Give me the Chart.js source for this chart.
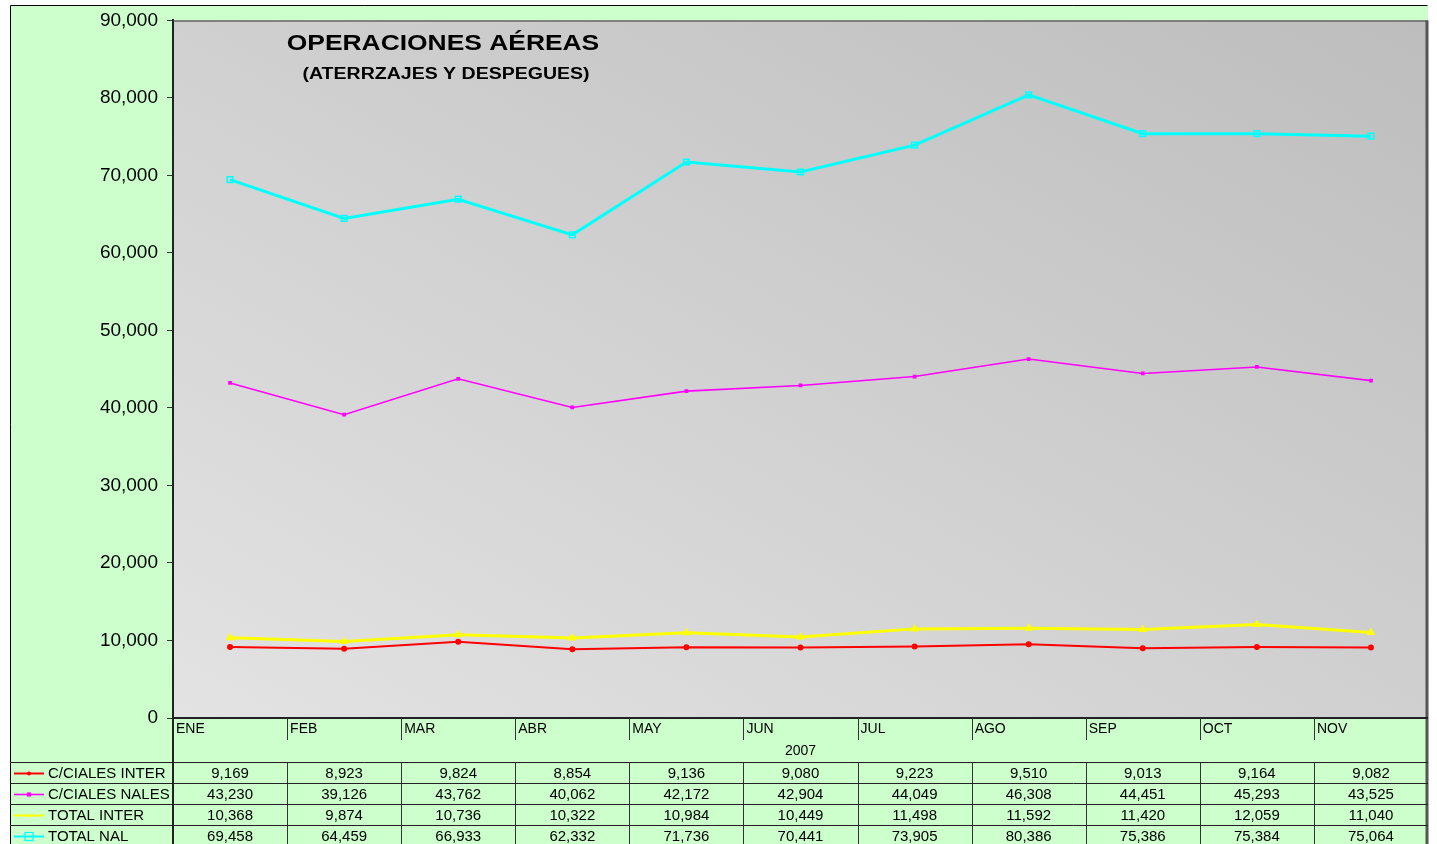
<!DOCTYPE html>
<html>
<head>
<meta charset="utf-8">
<script src="https://cdn.jsdelivr.net/npm/chart.js@4"></script>
<style>
  html, body { margin: 0; padding: 0; background: #ffffff; }
  #wrap { width: 1437px; height: 844px; position: relative; }
</style>
</head>
<body>
<div id="wrap"><canvas id="opsChart"></canvas></div>
<script>
const months = ['ENE', 'FEB', 'MAR', 'ABR', 'MAY', 'JUN', 'JUL', 'AGO', 'SEP', 'OCT', 'NOV'];
const yearLabel = '2007';
const cialesInter = [9169, 8923, 9824, 8854, 9136, 9080, 9223, 9510, 9013, 9164, 9082];
const cialesNales = [43230, 39126, 43762, 40062, 42172, 42904, 44049, 46308, 44451, 45293, 43525];
const totalInter = [10368, 9874, 10736, 10322, 10984, 10449, 11498, 11592, 11420, 12059, 11040];
const totalNal = [69458, 64459, 66933, 62332, 71736, 70441, 73905, 80386, 75386, 75384, 75064];
const seriesNames = ['C/CIALES INTER', 'C/CIALES NALES', 'TOTAL INTER', 'TOTAL NAL'];
const yMin = 0, yMax = 90000, yStep = 10000;

const FONT = '"Liberation Sans", Arial, sans-serif';
const fmt = v => v.toLocaleString('en-US');

// text drawn with a little horizontal stretch, like the old spreadsheet render
function stretchText(ctx, text, x, y, font, sx, align) {
    ctx.save();
    ctx.font = font;
    ctx.textAlign = align || 'center';
    ctx.textBaseline = 'middle';
    ctx.translate(x, y);
    ctx.scale(sx, 1);
    ctx.fillText(text, 0, 0);
    ctx.restore();
}

function drawMarker(ctx, ds, x, y) {
    ctx.save();
    ctx.strokeStyle = ds.pointBorderColor;
    ctx.fillStyle = ds.pointBackgroundColor;
    ctx.lineWidth = 1.2;
    const r = ds.pointRadius;
    if (ds.pointStyle === 'rect') {
        ctx.fillRect(x - r, y - r, r * 2, r * 2);
        ctx.strokeRect(x - r, y - r, r * 2, r * 2);
    } else if (ds.pointStyle === 'triangle') {
        ctx.beginPath();
        ctx.moveTo(x, y - r);
        ctx.lineTo(x + r, y + r * 0.7);
        ctx.lineTo(x - r, y + r * 0.7);
        ctx.closePath();
        ctx.fill();
    } else {
        ctx.beginPath();
        ctx.arc(x, y, r, 0, Math.PI * 2);
        ctx.fill();
    }
    ctx.restore();
}

const backdropPlugin = {
    id: 'backdrop',
    beforeDraw(chart) {
        const {ctx, chartArea: a} = chart;
        ctx.save();
        ctx.fillStyle = '#ffffff';
        ctx.fillRect(0, 0, chart.width, chart.height);
        ctx.fillStyle = '#ccffcc';
        ctx.fillRect(10, 5, 1418, chart.height - 5);
        ctx.strokeStyle = '#000000';
        ctx.lineWidth = 1;
        ctx.beginPath();
        ctx.moveTo(10.5, chart.height);
        ctx.lineTo(10.5, 5.5);
        ctx.lineTo(1427.5, 5.5);
        ctx.stroke();
        // diagonal fill: light corner bottom-left, dark corner top-right
        ctx.save();
        ctx.translate(a.left, a.top);
        ctx.scale(a.right - a.left, a.bottom - a.top);
        const g = ctx.createLinearGradient(0, 1, 1, 0);
        g.addColorStop(0, '#e3e3e3');
        g.addColorStop(1, '#bdbdbd');
        ctx.fillStyle = g;
        ctx.fillRect(0, 0, 1, 1);
        ctx.restore();
        ctx.restore();
    }
};

const tablePlugin = {
    id: 'dataTable',
    afterDraw(chart) {
        const {ctx, chartArea: a} = chart;
        const xs = chart.scales.x;
        const cw = xs.getPixelForValue(1) - xs.getPixelForValue(0);
        const edges = months.map((m, i) => xs.getPixelForValue(i) - cw / 2);
        edges.push(a.right);
        const rowTop = 762, rowH = 21;
        const tableBottom = chart.height;

        ctx.save();
        // plot frame
        ctx.strokeStyle = '#666666';
        ctx.lineWidth = 1.5;
        ctx.beginPath();
        ctx.moveTo(a.left, a.top + 0.5);
        ctx.lineTo(a.right, a.top + 0.5);
        ctx.stroke();
        ctx.lineWidth = 3;
        ctx.strokeStyle = '#555555';
        ctx.beginPath();
        ctx.moveTo(a.right - 1, a.top);
        ctx.lineTo(a.right - 1, tableBottom);
        ctx.stroke();
        ctx.strokeStyle = '#222222';
        ctx.lineWidth = 2;
        ctx.beginPath();
        ctx.moveTo(a.left, a.bottom);
        ctx.lineTo(a.right, a.bottom);
        ctx.moveTo(a.left, a.top);
        ctx.lineTo(a.left, tableBottom);
        ctx.stroke();

        // category header ticks and labels
        ctx.lineWidth = 1;
        ctx.strokeStyle = '#333333';
        ctx.beginPath();
        for (let i = 1; i < months.length; i++) {
            const x = Math.round(edges[i]) + 0.5;
            ctx.moveTo(x, a.bottom);
            ctx.lineTo(x, a.bottom + 22);
            ctx.moveTo(x, rowTop);
            ctx.lineTo(x, tableBottom);
        }
        ctx.stroke();
        ctx.fillStyle = '#000000';
        months.forEach((m, i) => {
            stretchText(ctx, m, edges[i] + 3, a.bottom + 11, '14px ' + FONT, 1.0, 'left');
        });
        stretchText(ctx, yearLabel, (a.left + a.right) / 2, 751, '14px ' + FONT, 1.0, 'center');

        // row lines
        ctx.strokeStyle = '#222222';
        ctx.beginPath();
        for (let r = 0; r < seriesNames.length; r++) {
            const y = rowTop + r * rowH + 0.5;
            ctx.moveTo(10, y);
            ctx.lineTo(a.right, y);
        }
        ctx.stroke();

        // rows: legend key + values
        chart.data.datasets.forEach((ds, r) => {
            const cy = rowTop + r * rowH + rowH / 2 + 1;
            ctx.strokeStyle = ds.borderColor;
            ctx.lineWidth = Math.min(ds.borderWidth, 2);
            ctx.beginPath();
            ctx.moveTo(14, cy);
            ctx.lineTo(44, cy);
            ctx.stroke();
            drawMarker(ctx, ds, 29, cy);
            ctx.fillStyle = '#000000';
            stretchText(ctx, ds.label, 48, cy, '15px ' + FONT, 1.0, 'left');
            ds.data.forEach((v, i) => {
                stretchText(ctx, fmt(v), xs.getPixelForValue(i), cy, '15px ' + FONT, 1.0, 'center');
            });
        });

        // titles
        ctx.fillStyle = '#000000';
        stretchText(ctx, 'OPERACIONES AÉREAS', 443, 44, 'bold 22px ' + FONT, 1.2, 'center');
        stretchText(ctx, '(ATERRZAJES Y DESPEGUES)', 446, 75, 'bold 16px ' + FONT, 1.22, 'center');
        ctx.restore();
    }
};

const ctx = document.getElementById('opsChart').getContext('2d');
new Chart(ctx, {
    type: 'line',
    data: {
        labels: months,
        datasets: [{
            label: seriesNames[0],
            data: cialesInter,
            borderColor: '#ff0000',
            borderWidth: 2,
            pointStyle: 'circle',
            pointRadius: 2,
            pointBackgroundColor: '#ff0000',
            pointBorderColor: '#ff0000',
            tension: 0
        }, {
            label: seriesNames[1],
            data: cialesNales,
            borderColor: '#ff00ff',
            borderWidth: 1.6,
            pointStyle: 'rect',
            pointRadius: 1.5,
            pointBackgroundColor: '#ff00ff',
            pointBorderColor: '#ff00ff',
            tension: 0
        }, {
            label: seriesNames[2],
            data: totalInter,
            borderColor: '#ffff00',
            borderWidth: 3,
            pointStyle: 'triangle',
            pointRadius: 2,
            pointBackgroundColor: '#ffff00',
            pointBorderColor: '#ffff00',
            tension: 0
        }, {
            label: seriesNames[3],
            data: totalNal,
            borderColor: '#00ffff',
            borderWidth: 3,
            pointStyle: 'rect',
            pointRadius: 4,
            pointBackgroundColor: 'rgba(0,0,0,0)',
            pointBorderColor: '#00ffff',
            pointBorderWidth: 1.5,
            tension: 0
        }]
    },
    options: {
        responsive: true,
        maintainAspectRatio: false,
        animation: false,
        layout: {
            padding: { left: 10, right: 9, top: 19, bottom: 126 }
        },
        scales: {
            x: {
                type: 'category',
                display: false,
                offset: true
            },
            y: {
                min: yMin,
                max: yMax,
                afterFit(scale) { scale.width = 163; },
                ticks: {
                    stepSize: yStep,
                    color: '#000000',
                    padding: 9,
                    font: { family: FONT, size: 19 },
                    callback: v => fmt(v)
                },
                grid: {
                    drawOnChartArea: false,
                    drawTicks: true,
                    tickLength: 6,
                    tickColor: '#333333'
                },
                border: { color: '#222222', width: 2 }
            }
        },
        plugins: {
            legend: { display: false },
            tooltip: { enabled: false },
            title: { display: false }
        }
    },
    plugins: [backdropPlugin, tablePlugin]
});
</script>
</body>
</html>
